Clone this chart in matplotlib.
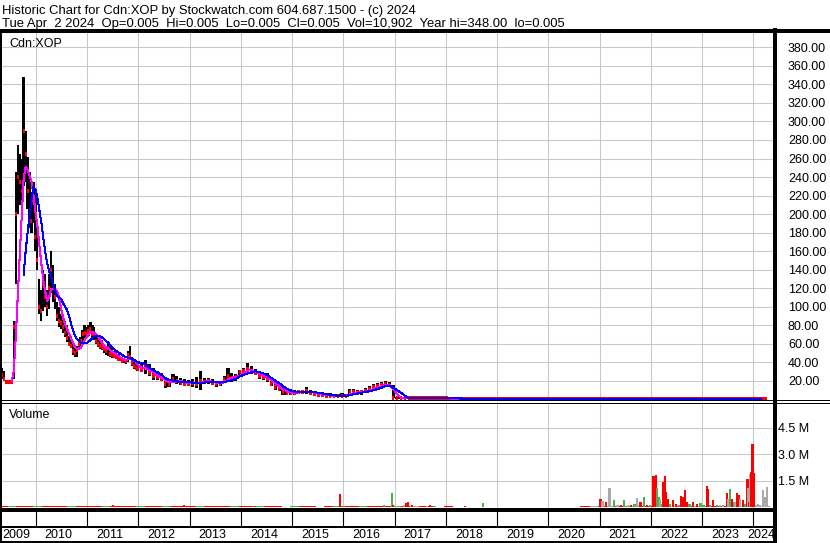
import numpy as np
import pandas as pd
import matplotlib
matplotlib.use("Agg")
import matplotlib.pyplot as plt
import matplotlib.dates as mdates
import matplotlib.transforms as mtransforms
from matplotlib.lines import Line2D

W, H = 830, 543

# price bars, every 14 days from May 2009 to end of 2011
high_a = [34, 30, 20, 20, 20, 20, 85, 245, 275, 265,
          260, 348, 290, 262, 245, 215, 235, 225, 185, 130,
          118, 140, 135, 118, 135, 160, 145, 125, 105, 100,
          92, 92, 85, 80, 68, 66, 60, 56, 58, 64,
          67, 75, 80, 78, 80, 83, 80, 78, 70, 67,
          65, 64, 60, 58, 61, 57, 55, 52, 50, 49,
          47, 46, 45, 44, 52, 57, 46, 42, 40, 39]
low_a = [22, 20, 18, 18, 18, 18, 22, 125, 200, 210,
         205, 230, 235, 205, 185, 180, 190, 160, 140, 92,
         85, 95, 100, 90, 98, 115, 105, 98, 85, 78,
         76, 72, 67, 62, 57, 55, 48, 46, 46, 54,
         55, 62, 64, 66, 68, 70, 66, 64, 60, 56,
         54, 53, 50, 48, 47, 46, 45, 45, 43, 42,
         41, 39, 39, 38, 40, 42, 36, 33, 32, 30]
close_a = [26, 22, 19, 19, 19, 19, 78, 200, 240, 235,
           225, 290, 265, 225, 205, 192, 215, 175, 150, 100,
           95, 125, 110, 100, 120, 140, 125, 110, 90, 85,
           82, 78, 72, 66, 60, 58, 52, 50, 53, 60,
           63, 70, 72, 70, 74, 76, 70, 68, 63, 60,
           57, 56, 54, 52, 55, 49, 48, 47, 46, 44,
           43, 41, 42, 41, 48, 46, 39, 36, 34, 33]

# every 28 days, 2012 to spring 2017
high_b = [38, 42, 38, 34, 30, 28, 21, 20, 27, 25,
          23, 22, 21, 22, 24, 30, 23, 23, 22, 19,
          19, 25, 34, 28, 27, 32, 34, 39, 36, 33,
          29, 28, 28, 22, 20, 16, 13, 12, 11, 10,
          10, 10, 13, 10, 9, 8, 8, 7, 7, 6,
          6, 7, 6, 11, 11, 10, 10, 12, 14, 17,
          18, 19, 20, 19, 15, 2, 2, 2, 1.5]
low_b = [29, 27, 25, 21, 21, 20, 12, 13, 18, 17,
         15, 15, 14, 13, 12, 10, 16, 16, 15, 13,
         14, 19, 20, 19, 20, 25, 26, 28, 27, 26,
         22, 21, 19, 14, 10, 9, 5, 5, 5, 5,
         6, 6, 6, 5, 4, 3, 3, 2, 2, 2,
         2, 2, 2, 4, 5, 5, 5, 7, 8, 10,
         11, 13, 14, 14, 1, 0.5, 0.5, 0.5, 0.5]
close_b = [32, 35, 28, 25, 24, 22, 16, 17, 22, 20,
           18, 17, 17, 18, 16, 20, 19, 20, 18, 16,
           17, 22, 25, 23, 24, 29, 31, 33, 30, 28,
           25, 24, 22, 17, 13, 11, 8, 7, 7, 7,
           8, 8, 9, 7, 6, 5, 5, 4, 4, 3,
           3, 4, 4, 8, 8, 7, 8, 9, 11, 13,
           14, 15, 17, 15, 1.5, 1, 1, 1, 1]

# every 91 days to 2024
high_c = [2.0, 2.6, 1.8, 1.6, 2.2, 1.2, 0.8, 0.6, 0.5, 0.5,
          0.4, 0.4, 0.3, 0.3, 0.6, 1.8, 0.8, 0.4, 0.3, 0.3,
          0.3, 0.2, 0.3, 0.2, 0.2, 0.2, 0.2, 0.1]
low_c = [0.6, 0.8, 0.6, 0.5, 0.4, 0.3, 0.2, 0.2, 0.1, 0.1,
         0.1, 0.1, 0.1, 0.1, 0.1, 0.2, 0.1, 0.05, 0.05, 0.05,
         0.05, 0.05, 0.05, 0.01, 0.01, 0.01, 0.01, 0.005]
close_c = [1.0, 1.2, 0.9, 0.8, 0.7, 0.5, 0.4, 0.3, 0.3, 0.2,
           0.2, 0.2, 0.2, 0.2, 0.3, 0.8, 0.3, 0.2, 0.1, 0.1,
           0.1, 0.1, 0.1, 0.05, 0.05, 0.02, 0.01, 0.005]

# low background volume, thousands of shares, every 61 days
vol_base_k = [90, 110, 100, 90, 80, 90, 80, 75, 70, 80,
              75, 70, 80, 70, 65, 70, 75, 65, 70, 65,
              70, 65, 60, 70, 65, 60, 65, 70, 60, 65,
              60, 65, 60, 55, 60, 65, 60, 55, 60, 65,
              60, 65, 60, 70, 75, 80, 90, 75, 65, 60,
              60, 55, 60, 55, 50, 50, 45, 45, 45, 40,
              40, 35, 35, 35, 35, 40, 45, 50, 70, 90,
              110, 100, 90, 100, 120, 110, 100, 90, 100, 90,
              90, 80, 90, 80, 90, 100, 90, 110, 100, 90]
vol_base_colors = ("rgrrgrrrgr" "rrgrrrgrrg" "rrrgrrrgrr" "grrrgrrrrg" "rrgrrrgrnr"
                   "rnrrnrrnrr" "nnnnnnnnrn" "rnrgnrrgnr" "rngrrgnrgn")

# larger single sessions (millions of shares)
spike_dates = ["2011-02-06", "2011-07-05", "2011-07-27", "2012-01-30", "2012-11-24", "2013-04-02",
               "2014-04-01", "2015-12-10", "2016-01-05", "2016-10-20", "2016-12-13", "2016-12-22",
               "2017-01-08", "2017-03-10", "2017-03-24", "2017-04-08", "2017-05-08", "2017-06-05",
               "2017-08-22", "2017-09-12", "2017-10-12", "2018-05-18", "2018-09-24", "2020-08-18",
               "2021-01-07", "2021-01-21", "2021-02-12", "2021-03-12", "2021-04-10", "2021-05-08",
               "2021-05-30", "2021-06-21", "2021-07-19", "2021-08-15", "2021-09-06", "2021-09-27",
               "2021-10-19", "2021-11-10", "2021-12-02", "2021-12-25", "2022-01-13", "2022-01-24",
               "2022-02-04", "2022-02-14", "2022-02-24", "2022-03-08", "2022-03-19", "2022-03-30",
               "2022-04-10", "2022-04-21", "2022-05-01", "2022-05-15", "2022-06-06", "2022-06-27",
               "2022-07-18", "2022-08-01", "2022-08-15", "2022-08-29", "2022-09-12", "2022-10-03",
               "2022-10-25", "2022-11-23", "2022-12-20", "2023-01-11", "2023-02-02", "2023-02-09",
               "2023-02-26", "2023-03-19", "2023-04-16", "2023-05-08", "2023-05-30", "2023-06-27",
               "2023-07-08", "2023-07-19", "2023-08-03", "2023-08-14", "2023-08-25", "2023-09-08",
               "2023-09-19", "2023-09-30", "2023-10-22", "2023-11-05", "2023-11-20", "2023-11-27",
               "2023-12-04", "2023-12-11", "2023-12-18", "2023-12-26", "2024-01-05", "2024-01-22",
               "2024-02-02", "2024-02-17", "2024-03-11", "2024-03-25", "2024-04-08"]
spike_vol_m = [0.10, 0.12, 0.10, 0.10, 0.12, 0.10,
               0.10, 0.75, 0.08, 0.12, 0.82, 0.15,
               0.10, 0.15, 0.25, 0.32, 0.12, 0.10,
               0.10, 0.15, 0.08, 0.10, 0.28, 0.10,
               0.46, 0.34, 0.30, 1.10, 0.40, 0.15,
               0.12, 0.40, 0.12, 0.15, 0.20, 0.52,
               0.30, 0.57, 0.15, 0.12, 1.78, 1.78,
               1.85, 1.10, 0.60, 0.50, 0.20, 1.45,
               1.78, 0.90, 0.50, 0.20, 0.40, 0.20,
               0.15, 0.63, 0.60, 1.00, 0.30, 0.20,
               0.30, 0.20, 0.25, 0.15, 1.20, 1.05,
               0.15, 0.40, 0.15, 0.15, 0.15, 0.80,
               0.50, 1.05, 0.50, 0.30, 0.30, 0.80,
               0.70, 0.50, 0.45, 0.20, 1.60, 1.10,
               0.30, 1.90, 2.00, 3.60, 1.96, 0.15,
               0.20, 0.15, 1.00, 0.60, 1.15]
spike_colors = ("rrrgrg" "grgggrn" "nrrrnn" "rgrgrr"
                "nrngnr" "gnrgnr" "grgrrr" "ggngrr" "rrgrrg"
                "rrrrgr" "rggrrg" "rgnnrn" "grgnrr" "nrgrnr"
                "nrrrnn" "nnnnn")

price_ticks = list(range(20, 400, 20))
vol_ticks = [1.5, 3.0, 4.5]
years = list(range(2009, 2025))
header1 = "Historic Chart for Cdn:XOP by Stockwatch.com 604.687.1500 - (c) 2024"
header2 = "Tue Apr  2 2024  Op=0.005  Hi=0.005  Lo=0.005  Cl=0.005  Vol=10,902  Year hi=348.00  lo=0.005"

dates_a = pd.date_range("2009-05-06", periods=len(close_a), freq="14D")
dates_b = pd.date_range("2012-01-25", periods=len(close_b), freq="28D")
dates_c = pd.date_range("2017-06-01", periods=len(close_c), freq="91D")
dates_base = pd.date_range("2009-05-15", periods=len(vol_base_k), freq="61D")

vol_colors = {"r": "#ff0000", "g": "#4caf50", "n": "#a9a9a9"}

plt.rcParams['font.family'] = ['Liberation Sans', 'DejaVu Sans']
fig = plt.figure(figsize=(W / 100, H / 100), dpi=100)


def fx(px):
    return px / W


def fy(py):
    return 1 - py / H


def num(d):
    return mdates.date2num(pd.DatetimeIndex(d).values)


ax = fig.add_axes([fx(2), fy(400), fx(774) - fx(2), fy(31) - fy(400)])
axv = fig.add_axes([fx(2), fy(508.4), fx(774) - fx(2), fy(402) - fy(508.4)])
axy = fig.add_axes([fx(2), fy(541), fx(774) - fx(2), fy(510) - fy(541)])

x0 = mdates.date2num(pd.Timestamp("2009-05-06"))
x1 = mdates.date2num(pd.Timestamp("2024-05-27"))
year_x = num([f"{y}-01-01" for y in years[1:]])

# price panel
segments = [(dates_a, high_a, low_a, close_a, 16, 7),
            (dates_b, high_b, low_b, close_b, 22, 9),
            (dates_c, high_c, low_c, close_c, 10, 46)]
for dates, hi, lo, cl, bw, tw in segments:
    xs = num(dates)
    hi, lo = np.array(hi, float), np.array(lo, float)
    ax.bar(xs, hi - lo, bottom=lo, width=bw, color="black", linewidth=0,
           antialiased=False, zorder=2)
    ax.hlines(cl, xs - tw, xs + tw, color="#ff0000", lw=1.6, zorder=3,
              antialiased=False)

closes = pd.Series(close_a + close_b + close_c,
                   index=dates_a.append(dates_b).append(dates_c))
start = closes.index[0]
ma_short = closes.rolling("70D").mean()
ma_short[closes.index < start + pd.Timedelta(days=68)] = np.nan
ma_long = closes.rolling("140D").mean()
ma_long[closes.index < start + pd.Timedelta(days=150)] = np.nan
ax.plot(num(closes.index), ma_short.values, color="#ff00ff", lw=0.75,
        antialiased=False, zorder=4)
ax.plot(num(closes.index), ma_long.values, color="#0000ff", lw=0.75,
        antialiased=False, zorder=5)

ax.set_xlim(x0, x1)
ax.set_ylim(-0.8, 397.7)
ax.set_xticks(year_x)
ax.set_yticks(price_ticks)
ax.set_yticklabels([f"{v:.2f}" for v in price_ticks])
ax.yaxis.tick_right()
ax.tick_params(axis="y", length=0, pad=10, labelsize=9)
ax.tick_params(axis="x", length=0, labelbottom=False)
ax.grid(True, color="#c8c8c8", lw=0.75)
ax.set_axisbelow(True)

# volume panel
axv.bar(num(dates_base), np.array(vol_base_k) * 1e3, width=61,
        color=[vol_colors[c] for c in vol_base_colors], linewidth=0, antialiased=False)
axv.bar(num(spike_dates), np.array(spike_vol_m) * 1e6, width=15,
        color=[vol_colors[c] for c in spike_colors], linewidth=0, antialiased=False)
axv.set_xlim(x0, x1)
axv.set_ylim(-0.051e6, 5.97e6)
axv.set_xticks(year_x)
axv.set_yticks([v * 1e6 for v in vol_ticks])
axv.set_yticklabels([f"{v:.1f} M" for v in vol_ticks])
axv.yaxis.tick_right()
axv.tick_params(axis="y", length=0, pad=3, labelsize=9)
axv.tick_params(axis="x", length=0, labelbottom=False)
axv.grid(True, color="#c8c8c8", lw=0.75)
axv.set_axisbelow(True)

# year strip
axy.set_xlim(x0, x1)
axy.set_ylim(0, 1)
axy.axis("off")
axy.vlines(year_x, (541 - 526) / 31, (541 - 511) / 31, color="black", lw=0.8)
label_trans = mtransforms.offset_copy(axy.transData, fig=fig, x=-2.5, y=0, units="dots")
for y in years:
    a = max(mdates.date2num(pd.Timestamp(f"{y}-01-01")), x0)
    b = min(mdates.date2num(pd.Timestamp(f"{y + 1}-01-01")), x1)
    axy.text((a + b) / 2, (541 - 535) / 31, str(y), ha="center", va="center",
             fontsize=9, transform=label_trans)

for a in (ax, axv):
    for s in a.spines.values():
        s.set_visible(False)


def frame_line(xs, ys, px):
    fig.add_artist(Line2D([fx(v) for v in xs], [fy(v) for v in ys],
                          color="black", lw=px * 0.72, antialiased=False))


frame_line([0, W], [30.5, 30.5], 2.5)
frame_line([1, 1], [30, H], 2)
frame_line([774.5, 774.5], [30, H], 2.4)
frame_line([0, W], [400, 400], 1)
frame_line([0, W], [402.5, 402.5], 1)
frame_line([0, 774.5], [509.6, 509.6], 2.4)
frame_line([0, 774.5], [527, 527], 2)
frame_line([0, 774.5], [542, 542], 2)

fig.text(fx(2), fy(14), header1, fontsize=9.4, va="baseline")
fig.text(fx(2), fy(27.3), header2, fontsize=9.4, va="baseline")
fig.text(fx(9), fy(46.5), "Cdn:XOP", fontsize=9, va="baseline")
fig.text(fx(9), fy(417.5), "Volume", fontsize=9, va="baseline")

fig.savefig("out.png", dpi=100)
